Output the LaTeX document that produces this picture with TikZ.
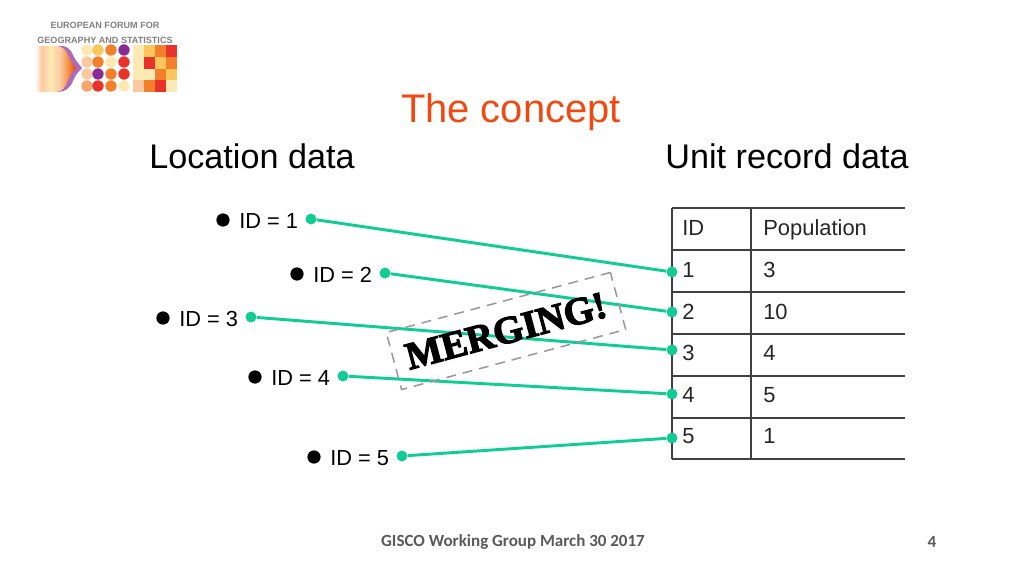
\documentclass[tikz,border=0pt]{standalone}
\usepackage{fontspec}
\setmainfont{Liberation Sans}
\newfontfamily\footfont{Carlito}
\newfontfamily\stampfont{Liberation Serif}[BoldFeatures={FakeBold=3}]
\usetikzlibrary{shapes.geometric}

\definecolor{linkgreen}{HTML}{12CC96}
\definecolor{titlered}{HTML}{F04A12}
\definecolor{footgray}{HTML}{595959}
\definecolor{gridgray}{HTML}{404040}
\definecolor{lcream}{HTML}{FDE9B4}
\definecolor{lyellow}{HTML}{FBC65C}
\definecolor{lorange}{HTML}{F47F2A}
\definecolor{lred}{HTML}{E8322A}
\definecolor{lpurple}{HTML}{8A2C96}
\definecolor{lpeach}{HTML}{FBC9A0}

\pgfdeclarehorizontalshading{blobfade}{100bp}{color(0bp)=(white); color(25bp)=(white); color(33bp)=(lpeach); color(44bp)=(lcream); color(56bp)=(lpeach); color(68bp)=(lorange); color(75bp)=(lred); color(100bp)=(lred)}

\tikzset{
    blackdot/.style={draw=none, circle, fill=black, inner sep=0pt, minimum size=9.4pt},
    greendot/.style={draw=none, circle, fill=linkgreen, inner sep=0pt, minimum size=7.8pt},
    idlabel/.style={anchor=west, inner sep=0pt, font=\fontsize{15.5pt}{17pt}\selectfont},
    celltext/.style={anchor=west, inner sep=0pt, text=black!85, font=\fontsize{15.6pt}{17pt}\selectfont},
    heading/.style={anchor=center, inner sep=0pt, font=\fontsize{24.3pt}{28pt}\selectfont},
    link/.style={line width=2.1pt, linkgreen},
    gridline/.style={line width=1pt, gridgray}
}

\begin{document}
\begin{tikzpicture}[x=0.025cm, y=-0.025cm]
        \useasboundingbox (0,0) rectangle (1024,576);

        % logo
        \node[inner sep=0pt, font=\bfseries\fontsize{6.45pt}{7pt}\selectfont, text=black!50] (logo_line1) at (105,25) {EUROPEAN FORUM FOR};
        \node[inner sep=0pt, font=\bfseries\fontsize{6.45pt}{7pt}\selectfont, text=black!50] (logo_line2) at (105,40) {GEOGRAPHY AND STATISTICS};

        \fill[lpurple!70] (56,46) .. controls (66,45) and (70,48) .. (73,55) .. controls (75,60) and (79,64) .. (82,68) .. controls (78,72) and (75,76) .. (73,81) .. controls (70,88) and (66,92) .. (56,92) -- cycle;
        \shade[shading=blobfade] (35,46) -- (58,46) .. controls (64,47) and (67,52) .. (69,57) .. controls (71,62) and (73,65) .. (76,68) .. controls (73,71) and (70,75) .. (68,80) .. controls (66,87) and (62,92) .. (56,92) -- (35,92) -- cycle;

        \foreach \col/\xpos in {0/87,1/98,2/111,3/124}
            \foreach \row/\ypos in {0/50,1/62,2/74,3/86}{
                \pgfmathsetmacro{\idx}{int(\row*4+\col)}
                \ifcase\idx \def\tone{lcream}\or \def\tone{lyellow}\or \def\tone{lorange}\or \def\tone{lpurple}
                \or \def\tone{lpeach}\or \def\tone{lorange}\or \def\tone{lcream}\or \def\tone{lred}
                \or \def\tone{lpeach}\or \def\tone{lpurple}\or \def\tone{lorange}\or \def\tone{lred}
                \or \def\tone{lorange!70}\or \def\tone{lred}\or \def\tone{lorange}\or \def\tone{lcream}\fi
                \fill[\tone] (\xpos,\ypos) circle (5.7);
            }

        \foreach \col in {0,1,2,3}
            \foreach \row in {0,1,2,3}{
                \pgfmathsetmacro{\idx}{int(\row*4+\col)}
                \ifcase\idx \def\tone{lcream}\or \def\tone{lyellow}\or \def\tone{lorange}\or \def\tone{lred}
                \or \def\tone{lcream}\or \def\tone{lred}\or \def\tone{lyellow}\or \def\tone{lorange}
                \or \def\tone{lcream}\or \def\tone{lcream}\or \def\tone{lorange}\or \def\tone{lyellow}
                \or \def\tone{lpeach}\or \def\tone{lorange}\or \def\tone{lred}\or \def\tone{lcream}\fi
                \fill[\tone] ({133+\col*11},{45+\row*11.8}) rectangle ++(11,11.8);
            }

        % headings
        \node[inner sep=0pt, text=titlered, font=\fontsize{28.4pt}{30pt}\selectfont] (title) at (511,112) {The concept};
        \node[heading] (location_head) at (252,156) {Location data};
        \node[heading] (record_head) at (787,156) {Unit record data};

        % table
        \foreach \ypos in {208,250,292,334,376,418,459}
            \draw[gridline] (672,\ypos) -- (905,\ypos);
        \foreach \xpos in {672,751}
            \draw[gridline] (\xpos,208) -- (\xpos,459);

        \node[celltext, anchor=base west] (head_id) at (682,236) {ID};
        \node[celltext, anchor=base west] (head_pop) at (763,236) {Population};
        \foreach \ypos/\rid/\pop in {270/1/3,312/2/10,353/3/4,395/4/5,436/5/1}{
            \node[celltext] (id_\rid) at (682,\ypos) {\rid};
            \node[celltext] (pop_\rid) at (763,\ypos) {\pop};
        }

        % location points
        \foreach \name/\xa/\xb/\ypos in {1/223/311/220,2/297/385/274,3/163/251/318,4/255/343/377,5/314/402/457}{
            \node[blackdot] (point_\name) at (\xa,\ypos) {};
            \node[idlabel] (label_\name) at (\xa+16,\ypos+1) {ID = \name};
            \node[greendot] (from_\name) at (\xb,\ypos-1) {};
        }

        % row ends
        \node[greendot] (to_1) at (672,272) {};
        \node[greendot] (to_2) at (672,312) {};
        \node[greendot] (to_3) at (672,350) {};
        \node[greendot] (to_4) at (672,394) {};
        \node[greendot] (to_5) at (672,438) {};

        \foreach \name in {1,2,3,4,5}
            \draw[link] (from_\name) -- (to_\name);

        % stamp
        \node[draw=black!40, dash pattern=on 7pt off 5pt, line width=1.1pt, rotate=15, minimum width=165pt, minimum height=42pt, inner sep=0pt, font=\stampfont\bfseries\fontsize{27.5pt}{30pt}\selectfont] (stamp) at (506,331) {MERGING!};

        % footer
        \node[inner sep=0pt, text=footgray, font=\footfont\bfseries\fontsize{12.1pt}{14pt}\selectfont] (footer) at (513,542) {GISCO Working Group March 30 2017};
        \node[inner sep=0pt, text=footgray, font=\footfont\bfseries\fontsize{12.1pt}{14pt}\selectfont] (page_no) at (932,542) {4};
\end{tikzpicture}
\end{document}
